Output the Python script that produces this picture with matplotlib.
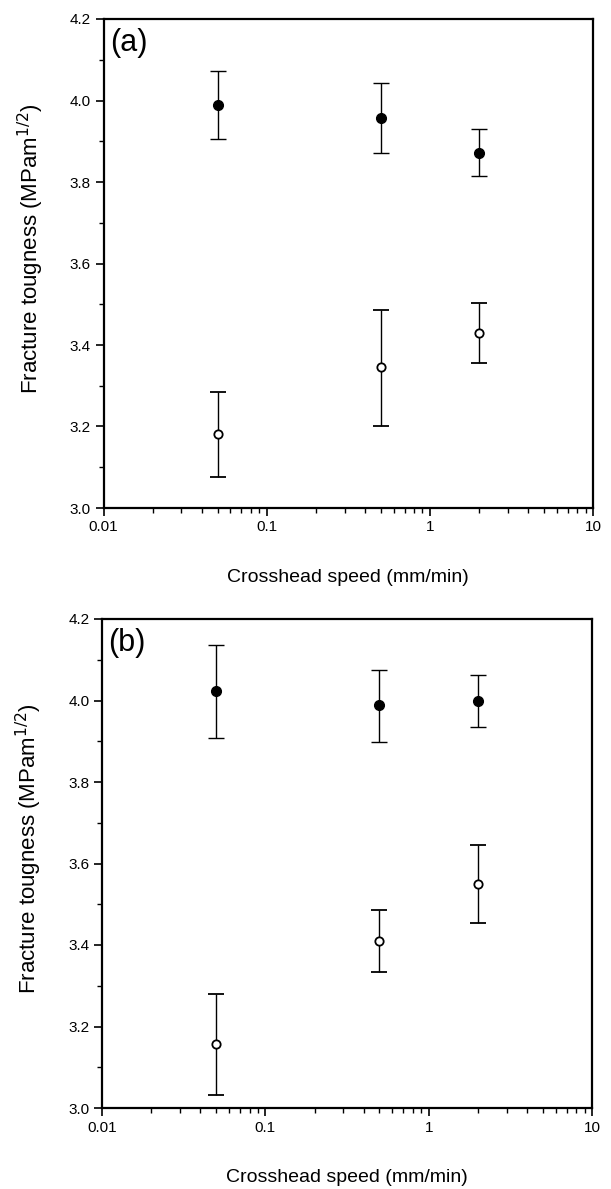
import matplotlib
matplotlib.use("Agg")
import matplotlib.pyplot as plt
from matplotlib.ticker import NullFormatter, LogLocator, MultipleLocator

plt.rcParams['font.family'] = ['Liberation Sans', 'DejaVu Sans']

speed = [0.05, 0.5, 2.0]

# Panel (a)
a_filled = [3.99, 3.957, 3.872]
a_filled_hi = [4.073, 4.043, 3.930]
a_filled_lo = [3.905, 3.870, 3.815]
a_open = [3.181, 3.345, 3.430]
a_open_hi = [3.285, 3.486, 3.503]
a_open_lo = [3.075, 3.202, 3.356]

# Panel (b)
b_filled = [4.024, 3.988, 3.998]
b_filled_hi = [4.136, 4.076, 4.062]
b_filled_lo = [3.908, 3.899, 3.935]
b_open = [3.157, 3.410, 3.550]
b_open_hi = [3.280, 3.486, 3.645]
b_open_lo = [3.032, 3.334, 3.455]

panel_labels = ["(a)", "(b)"]
xlabel = "Crosshead speed (mm/min)"
ylabel = r"Fracture tougness (MPam$^{1/2}$)"
yticks = [3.0, 3.2, 3.4, 3.6, 3.8, 4.0, 4.2]
xticks = [0.01, 0.1, 1, 10]
xticklabels = ["0.01", "0.1", "1", "10"]

fig = plt.figure(figsize=(6.11, 11.89), dpi=100)
rects = [
    [103.5/611, 1-508/1189, (593-103.5)/611, 489/1189],
    [102/611, 1-1108/1189, (592-102)/611, 489/1189],
]
data = [
    (a_filled, a_filled_hi, a_filled_lo, a_open, a_open_hi, a_open_lo),
    (b_filled, b_filled_hi, b_filled_lo, b_open, b_open_hi, b_open_lo),
]

for rect, d, lab in zip(rects, data, panel_labels):
    ax = fig.add_axes(rect)
    f, fh, fl, o, oh, ol = d
    ferr = [[v - l for v, l in zip(f, fl)], [h - v for v, h in zip(f, fh)]]
    oerr = [[v - l for v, l in zip(o, ol)], [h - v for v, h in zip(o, oh)]]
    ax.errorbar(speed, f, yerr=ferr, fmt='o', color='black', ms=7,
                mfc='black', mec='black', ecolor='black', elinewidth=1.0,
                capsize=6, capthick=1.0, zorder=3)
    ax.errorbar(speed, o, yerr=oerr, fmt='o', color='black', ms=6,
                mfc='white', mec='black', mew=1.3, ecolor='black',
                elinewidth=1.0, capsize=6, capthick=1.0, zorder=3)
    ax.set_xscale('log')
    ax.set_xlim(0.01, 10)
    ax.set_ylim(3.0, 4.2)
    ax.set_xticks(xticks)
    ax.set_xticklabels(xticklabels)
    ax.xaxis.set_minor_locator(LogLocator(base=10, subs=range(2, 10)))
    ax.xaxis.set_minor_formatter(NullFormatter())
    ax.set_yticks(yticks)
    ax.set_yticklabels([f"{v:.1f}" for v in yticks])
    ax.yaxis.set_minor_locator(MultipleLocator(0.1))
    for s in ax.spines.values():
        s.set_linewidth(1.6)
    ax.tick_params(which='major', direction='out', length=6, width=1.2,
                   labelsize=11, top=False, right=False, pad=3)
    ax.tick_params(which='minor', direction='out', length=3.5, width=1.0,
                   top=False, right=False)
    ax.set_xlabel(xlabel, fontsize=14, labelpad=25)
    ax.set_ylabel(ylabel, fontsize=16)
    ax.yaxis.set_label_coords(-0.118, 0.53)
    ax.text(0.013, 0.982, lab, transform=ax.transAxes, fontsize=22,
            ha='left', va='top')

fig.savefig("out.png", dpi=100)
